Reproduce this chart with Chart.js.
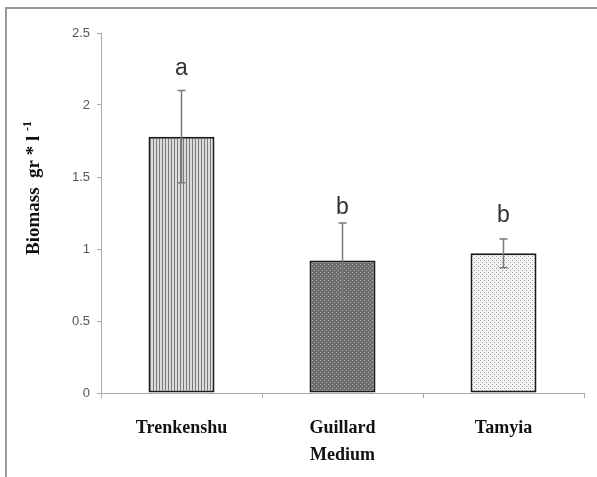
<!DOCTYPE html>
<html>
<head>
<meta charset="utf-8">
<script src="https://cdn.jsdelivr.net/npm/chart.js@4"></script>
<style>
    html, body {margin: 0; padding: 0; background: #fff;}
    #wrap {position: relative; width: 597px; height: 477px;}
    #frame {position: absolute; left: 5px; top: 7px; right: 0; bottom: 0; border-left: 2px solid #999; border-top: 2px solid #999;}
    canvas {position: absolute; left: 0; top: 0;}
</style>
</head>
<body>
<div id="wrap">
    <div id="frame"></div>
    <canvas id="bio_chart" width="597" height="477"></canvas>
</div>
<script>
//Data
const media = [['Trenkenshu'], ['Guillard', 'Medium'], ['Tamyia']];
const biomass = [1.78, 0.92, 0.97];
const biomassErr = [0.32, 0.26, 0.10];
const groupLetters = ['a', 'b', 'b'];
const letterBase = [2.21, 1.24, 1.19];   //baseline of the letters, in axis units
const yTicks = [0, 0.5, 1, 1.5, 2, 2.5];

const makePattern = (kind) => {
    /*
        Builds the small fill tiles for the bars
    */
    const c = document.createElement('canvas');
    const g = c.getContext('2d');
    if (kind == 'stripes'){
        c.width = 3; c.height = 3;
        g.fillStyle = '#dcdcdc';
        g.fillRect(0, 0, 3, 3);
        g.fillStyle = '#7a7a7a';
        g.fillRect(0, 0, 1, 3);
    }
    else if (kind == 'darkdots'){
        c.width = 4; c.height = 4;
        g.fillStyle = '#6e6e6e';
        g.fillRect(0, 0, 4, 4);
        g.fillStyle = '#a8a8a8';
        g.fillRect(0, 0, 1, 1);
        g.fillRect(2, 2, 1, 1);
    }
    else{
        c.width = 4; c.height = 4;
        g.fillStyle = '#f4f4f4';
        g.fillRect(0, 0, 4, 4);
        g.fillStyle = '#9a9a9a';
        g.fillRect(0, 0, 1, 1);
        g.fillRect(2, 2, 1, 1);
    }
    return g.createPattern(c, 'repeat');
};

//Error bars and letters drawn on top of the bars
const extrasPlugin = {
    id: 'extras',
    afterDatasetsDraw(chart) {
        const ctx = chart.ctx;
        const meta = chart.getDatasetMeta(0);
        const y = chart.scales.y;
        ctx.save();
        meta.data.forEach((bar, i) => {
            const top = y.getPixelForValue(biomass[i] + biomassErr[i]);
            const bot = y.getPixelForValue(biomass[i] - biomassErr[i]);
            ctx.strokeStyle = '#7a7a7a';
            ctx.lineWidth = 1.5;
            ctx.beginPath();
            ctx.moveTo(bar.x, top); ctx.lineTo(bar.x, bot);
            ctx.moveTo(bar.x - 4, top); ctx.lineTo(bar.x + 4, top);
            ctx.moveTo(bar.x - 4, bot); ctx.lineTo(bar.x + 4, bot);
            ctx.stroke();
            ctx.fillStyle = '#333';
            ctx.font = '23px "Liberation Sans", Arial, sans-serif';
            ctx.textAlign = 'center';
            ctx.textBaseline = 'alphabetic';
            ctx.fillText(groupLetters[i], bar.x, y.getPixelForValue(letterBase[i]));
        });
        //Axis title with a superscript
        ctx.translate(34, 188);
        ctx.rotate(-Math.PI / 2);
        ctx.fillStyle = '#111';
        ctx.textBaseline = 'middle';
        ctx.textAlign = 'left';
        const main = 'Biomass  gr * l ';
        ctx.font = 'bold 19px "Liberation Serif", "Times New Roman", serif';
        const w1 = ctx.measureText(main).width;
        ctx.font = 'bold 12px "Liberation Serif", "Times New Roman", serif';
        const w2 = ctx.measureText('-1').width;
        const x0 = -(w1 + w2) / 2;
        ctx.font = 'bold 19px "Liberation Serif", "Times New Roman", serif';
        ctx.fillText(main, x0, 0);
        ctx.font = 'bold 12px "Liberation Serif", "Times New Roman", serif';
        ctx.fillText('-1', x0 + w1, -6);
        ctx.restore();
    }
};

const ctx = document.getElementById('bio_chart').getContext('2d');
const bioChart = new Chart(ctx, {
    type: 'bar',
    data: {
        labels: media,
        datasets: [{
            data: biomass,
            backgroundColor: [makePattern('stripes'), makePattern('darkdots'), makePattern('lightdots')],
            borderColor: '#1a1a1a',
            borderWidth: 2,
            borderSkipped: false,
            categoryPercentage: 1.0,
            barPercentage: 0.41
        }]
    },
    options: {
        responsive: false,
        animation: false,
        layout: {padding: {top: 33, right: 13, left: 0, bottom: 0}},
        plugins: {legend: {display: false}, tooltip: {enabled: false}},
        scales: {
            x: {
                grid: {offset: true, drawOnChartArea: false, tickLength: 5, color: '#aaa'},
                border: {color: '#aaa', width: 1},
                ticks: {
                    padding: 17,
                    color: '#111',
                    font: {family: '"Liberation Serif", "Times New Roman", serif', size: 18, weight: 'bold', lineHeight: 1.5}
                },
                afterFit: (scale) => { scale.height = 84; }
            },
            y: {
                min: 0,
                max: 2.5,
                afterBuildTicks: (scale) => { scale.ticks = yTicks.map(v => ({value: v})); },
                grid: {drawOnChartArea: false, tickLength: 4, color: '#aaa'},
                border: {color: '#aaa', width: 1},
                ticks: {
                    padding: 7,
                    color: '#555',
                    font: {family: '"Liberation Sans", Arial, sans-serif', size: 13},
                    callback: (v) => String(v)
                },
                afterFit: (scale) => { scale.width = 101; }
            }
        }
    },
    plugins: [extrasPlugin]
});
</script>
</body>
</html>
